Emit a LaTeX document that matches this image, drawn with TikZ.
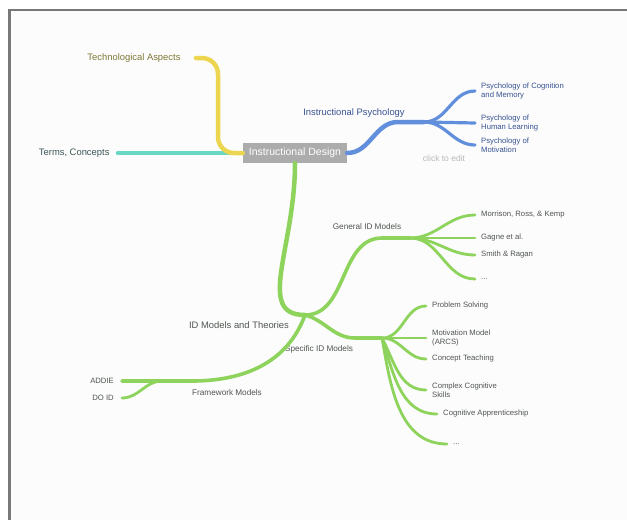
\documentclass[tikz,border=0pt]{standalone}
\usepackage{fontspec}
\setmainfont{Liberation Sans}
\usetikzlibrary{positioning}

\definecolor{idgreen}{RGB}{141,211,92}
\definecolor{idblue}{RGB}{98,143,220}
\definecolor{idyellow}{RGB}{236,214,80}
\definecolor{idteal}{RGB}{104,216,196}
\definecolor{boxgray}{RGB}{172,172,172}
\definecolor{framegray}{RGB}{120,120,120}
\definecolor{pagebg}{RGB}{252,252,252}
\definecolor{txtolive}{RGB}{125,120,55}
\definecolor{txtteal}{RGB}{60,85,85}
\definecolor{txtblue}{RGB}{55,82,145}
\definecolor{txtgreen}{RGB}{80,86,80}
\definecolor{txthint}{RGB}{185,185,185}

\begin{document}
\begin{tikzpicture}[x=1pt,y=1pt,
	topic/.style={font=\fontsize{9.4}{11}\selectfont},
	sub/.style={font=\fontsize{8.2}{9.5}\selectfont, text=txtgreen},
	leaf/.style={font=\fontsize{7.7}{9}\selectfont, anchor=west, align=left, inner xsep=6pt, inner ysep=1pt},
	leaf_l/.style={leaf, anchor=east, align=right, inner xsep=8pt},
	thick_br/.style={line width=4.5pt, line cap=round},
	mid_br/.style={line width=3.6pt, line cap=round},
	thin_br/.style={line width=2.8pt, line cap=round}]

% Page and frame
	\useasboundingbox (0,0) rectangle (627,-520);
	\fill[white] (0,0) rectangle (627,-520);
	\fill[pagebg] (10,-11) rectangle (627,-520);
	\draw[framegray, line width=2.5pt] (8,-10) -- (627,-10);
	\draw[framegray, line width=2.5pt] (9.5,-10) -- (9.5,-520);

% Central topic and first level
	\node (inst_design)	[fill=boxgray, text=white, minimum width=104pt, minimum height=20pt, inner sep=0pt, font=\fontsize{10.5}{12}\selectfont] at (295,-153) {Instructional Design};

	\node (tech)		[topic, text=txtolive, anchor=east]	at (184,-58)	{Technological Aspects};
	\node (terms)		[topic, text=txtteal, anchor=east]	at (113,-153)	{Terms, Concepts};
	\node (inst_psy)	[topic, text=txtblue]				at (354,-113)	{Instructional Psychology};
	\node (idm)			[topic, text=txtgreen]				at (239,-325)	{ID Models and Theories};

% Second level
	\node (gen_id)		[sub]	at (367,-227)	{General ID Models};
	\node (spec_id)		[sub]	at (319,-349)	{Specific ID Models};
	\node (fw)			[sub]	at (227,-393)	{Framework Models};

% Leaves
	\node (psy_cog)		[leaf, text=txtblue]	at (475,-91)	{Psychology of Cognition\\and Memory};
	\node (psy_hum)		[leaf, text=txtblue]	at (475,-123)	{Psychology of\\Human Learning};
	\node (psy_mot)		[leaf, text=txtblue]	at (475,-145)	{Psychology of\\Motivation};
	\node (click)		[font=\fontsize{8.5}{10}\selectfont, text=txthint]	at (444,-158)	{click to edit};

	\node (mrk)			[leaf, text=txtgreen]	at (475,-215)	{Morrison, Ross, \& Kemp};
	\node (gagne)		[leaf, text=txtgreen]	at (475,-238)	{Gagne et al.};
	\node (smith)		[leaf, text=txtgreen]	at (475,-255)	{Smith \& Ragan};
	\node (gen_more)	[leaf, text=txtgreen]	at (475,-279)	{...};

	\node (prob)		[leaf, text=txtgreen]	at (426,-306)	{Problem Solving};
	\node (arcs)		[leaf, text=txtgreen]	at (426,-338)	{Motivation Model\\(ARCS)};
	\node (concept)		[leaf, text=txtgreen]	at (426,-359)	{Concept Teaching};
	\node (complex)		[leaf, text=txtgreen]	at (426,-390)	{Complex Cognitive\\Skills};
	\node (apprent)		[leaf, text=txtgreen]	at (437,-414)	{Cognitive Apprenticeship};
	\node (spec_more)	[leaf, text=txtgreen]	at (447,-444)	{...};

	\node (addie)		[leaf_l, text=txtgreen]	at (122,-381)	{ADDIE};
	\node (doid)		[leaf_l, text=txtgreen]	at (122,-398)	{DO ID};

% Branch points
	\coordinate (tech_end)	at (196,-58);
	\coordinate (terms_end)	at (118,-153);
	\coordinate (ip_a)		at (398,-122);
	\coordinate (ip_b)		at (424,-122);
	\coordinate (idm_j)		at (305,-315);
	\coordinate (gen_a)		at (382,-238);
	\coordinate (gen_b)		at (410,-238);
	\coordinate (spec_a)	at (355,-338);
	\coordinate (spec_b)	at (382,-338);
	\coordinate (fw_a)		at (192,-381);
	\coordinate (fw_j)		at (162,-381);

% Branches
	\draw[thick_br, idteal] (terms_end) -- (inst_design.west);
	\draw[thick_br, idyellow, rounded corners=16pt] (tech_end) -- ++(22,0) |- (inst_design.west);

	\draw[thick_br, idblue] (inst_design.east) to[out=0,in=180] (ip_a) -- (ip_b);
	\path[thin_br, idblue, line width=3.2pt]
		(ip_b)	edge[out=0,in=180]	(psy_cog.west)
		(ip_b)	edge				(psy_hum.west)
		(ip_b)	edge[out=0,in=180]	(psy_mot.west)
	;

	\draw[thick_br, idgreen] (inst_design.south) .. controls +(0,-85) and +(-50,0) .. (idm_j);
	\draw[mid_br, idgreen] (idm_j) to[out=0,in=180] (gen_a) -- (gen_b);
	\draw[mid_br, idgreen] (idm_j) to[out=-15,in=180] (spec_a) -- (spec_b);
	\draw[mid_br, idgreen] (idm_j) to[out=-110,in=0] (fw_a) -- (fw_j) -- (addie.east);

	\path[thin_br, idgreen]
		(gen_b)		edge[out=0,in=180]	(mrk.west)
		(gen_b)		edge				(gagne.west)
		(gen_b)		edge[out=0,in=180]	(smith.west)
		(gen_b)		edge[out=0,in=180]	(gen_more.west)

		(spec_b)	edge[out=0,in=180]	(prob.west)
		(spec_b)	edge				(arcs.west)
		(spec_b)	edge[out=0,in=180]	(concept.west)
		(spec_b)	edge[out=-62,in=180]	(complex.west)
		(spec_b)	edge[out=-72,in=180]	(apprent.west)
		(spec_b)	edge[out=-80,in=180]	(spec_more.west)

		(fw_j)		edge[out=180,in=0]	(doid.east)
	;

\end{tikzpicture}
\end{document}
